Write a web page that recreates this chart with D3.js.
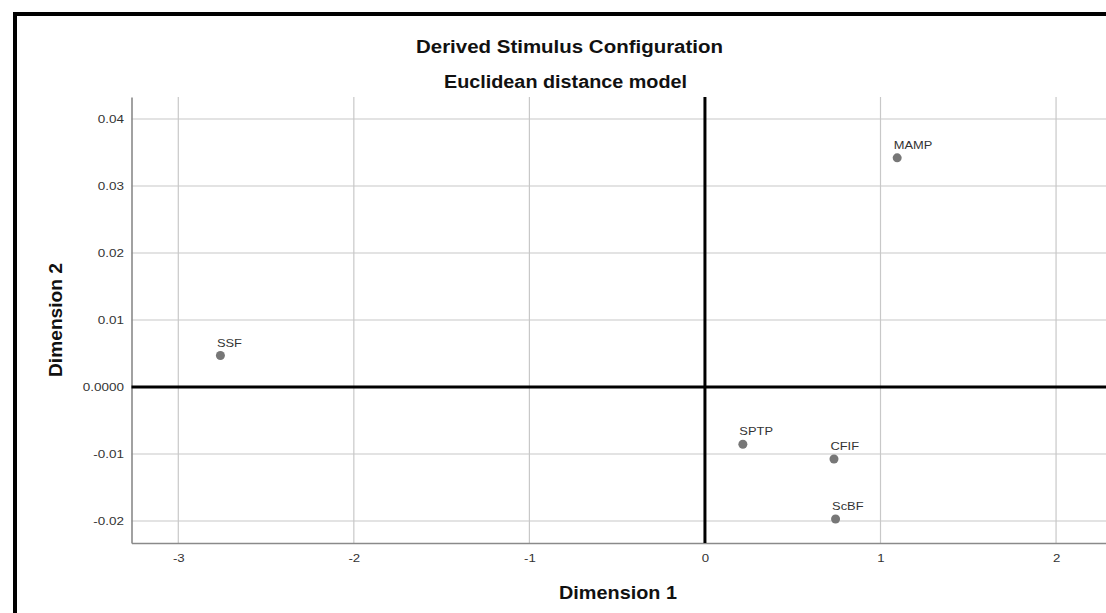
<!DOCTYPE html>
<html>
<head>
<meta charset="utf-8">
<script src="https://cdn.jsdelivr.net/npm/d3@7"></script>
<style>
html,body{margin:0;padding:0;background:#fff;}
svg{display:block;font-family:"Liberation Sans",Arial,sans-serif;}
</style>
</head>
<body>
<svg id="chart" width="1106" height="613"></svg>
<script>
const labels = ["MAMP", "SSF", "SPTP", "CFIF", "ScBF"];
const dim1 = [1.095, -2.76, 0.216, 0.735, 0.744];
const dim2 = [0.0342, 0.0047, -0.00855, -0.01075, -0.0197];
const xTicks = [-3, -2, -1, 0, 1, 2];
const xTickLabels = ["-3", "-2", "-1", "0", "1", "2"];
const yTicks = [-0.02, -0.01, 0, 0.01, 0.02, 0.03, 0.04];
const yTickLabels = ["-0.02", "-0.01", "0.0000", "0.01", "0.02", "0.03", "0.04"];

(function () {
const svg = d3.select("#chart");
const W = 1106, H = 613;
const pL = 131.5, pR = 1106, pT = 97, pB = 543;
const FONT = "Liberation Sans, Arial, sans-serif";

function stretch(sel, s) {
  sel.each(function () {
    const w = this.getComputedTextLength();
    d3.select(this).attr("textLength", w * s).attr("lengthAdjust", "spacingAndGlyphs");
  });
}

const x = d3.scaleLinear().domain([-3.2665, 2.2845]).range([pL, pR]);
const y = d3.scaleLinear().domain([-0.02328, 0.04328]).range([pB, pT]);

// outer frame
svg.append("rect").attr("x", 15).attr("y", 14).attr("width", W + 20).attr("height", H + 20)
  .attr("fill", "#fff").attr("stroke", "#000").attr("stroke-width", 4);

// grid
const g = svg.append("g");
g.selectAll(".vg").data(xTicks.filter(d => d !== 0)).enter().append("line")
  .attr("x1", d => x(d)).attr("x2", d => x(d)).attr("y1", pT).attr("y2", pB)
  .attr("stroke", "#c8c8c8").attr("stroke-width", 1.2);
g.selectAll(".hg").data(yTicks.filter(d => d !== 0)).enter().append("line")
  .attr("x1", pL).attr("x2", pR).attr("y1", d => y(d)).attr("y2", d => y(d))
  .attr("stroke", "#c8c8c8").attr("stroke-width", 1.2);

// axes
const xAxis = d3.axisBottom(x).tickValues(xTicks).tickSize(0).tickPadding(10.5)
  .tickFormat((d, i) => xTickLabels[i]);
const gx = svg.append("g").attr("transform", `translate(0,${pB})`).call(xAxis);
gx.select(".domain").attr("stroke", "#8a8a8a").attr("stroke-width", 1.6);
gx.selectAll("text").attr("font-size", 11.5).attr("fill", "#333").attr("font-family", FONT)
  .call(stretch, 1.15);

const yAxis = d3.axisLeft(y).tickValues(yTicks).tickSize(0).tickPadding(7.5)
  .tickFormat((d, i) => yTickLabels[i]);
const gy = svg.append("g").attr("transform", `translate(${pL},0)`).call(yAxis);
gy.select(".domain").attr("stroke", "#8a8a8a").attr("stroke-width", 1.6);
gy.selectAll("text").attr("font-size", 11.5).attr("fill", "#333").attr("font-family", FONT)
  .call(stretch, 1.17);

// zero lines
svg.append("line").attr("x1", x(0)).attr("x2", x(0)).attr("y1", pT).attr("y2", pB)
  .attr("stroke", "#000").attr("stroke-width", 3);
svg.append("line").attr("x1", pL).attr("x2", pR).attr("y1", y(0)).attr("y2", y(0))
  .attr("stroke", "#000").attr("stroke-width", 3);

// points
const pts = labels.map((l, i) => ({label: l, x: dim1[i], y: dim2[i]}));
svg.selectAll(".pt").data(pts).enter().append("circle")
  .attr("cx", d => x(d.x)).attr("cy", d => y(d.y)).attr("r", 4.5)
  .attr("fill", "#777");
svg.selectAll(".lbl").data(pts).enter().append("text")
  .attr("x", d => x(d.x) - 3.5).attr("y", d => y(d.y) - 9)
  .attr("font-size", 11).attr("fill", "#333").text(d => d.label)
  .call(stretch, 1.17);

// titles
svg.append("text").attr("x", 569.5).attr("y", 53).attr("text-anchor", "middle")
  .attr("font-size", 18).attr("font-weight", "bold").attr("fill", "#111")
  .attr("textLength", 307).attr("lengthAdjust", "spacingAndGlyphs")
  .text("Derived Stimulus Configuration");
svg.append("text").attr("x", 565.5).attr("y", 88).attr("text-anchor", "middle")
  .attr("font-size", 18).attr("font-weight", "bold").attr("fill", "#111")
  .attr("textLength", 243).attr("lengthAdjust", "spacingAndGlyphs")
  .text("Euclidean distance model");
svg.append("text").attr("x", 618).attr("y", 599).attr("text-anchor", "middle")
  .attr("font-size", 19).attr("font-weight", "bold").attr("fill", "#111")
  .attr("textLength", 118).attr("lengthAdjust", "spacingAndGlyphs")
  .text("Dimension 1");
svg.append("text").attr("transform", "translate(62,320) rotate(-90)").attr("text-anchor", "middle")
  .attr("font-size", 19).attr("font-weight", "bold").attr("fill", "#111")
  .attr("textLength", 114).attr("lengthAdjust", "spacingAndGlyphs")
  .text("Dimension 2");
})();
</script>
</body>
</html>
